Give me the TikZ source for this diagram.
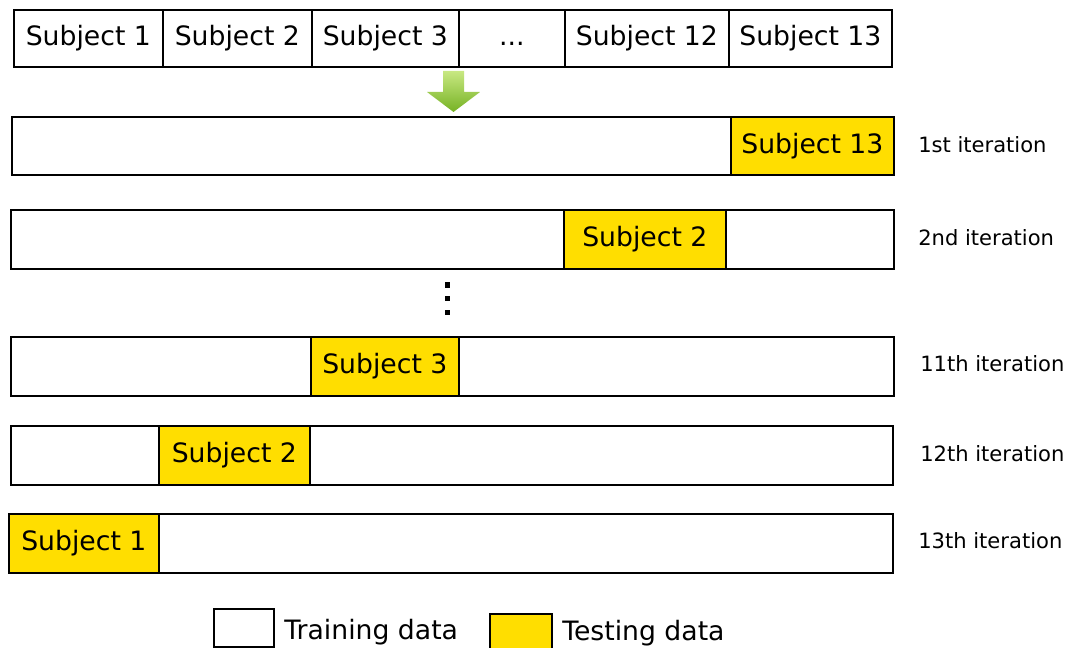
\documentclass[tikz,border=0pt]{standalone}
\usepackage{fontspec}
\setmainfont{DejaVu Sans}
\definecolor{testy}{RGB}{255,222,0}
\definecolor{glight}{RGB}{200,232,130}
\definecolor{gdark}{RGB}{118,178,36}
\begin{document}
\begin{tikzpicture}[x=0.75pt,y=-0.75pt,
  cell/.style={draw=black, line width=1.3pt, fill=white, inner sep=0pt, anchor=north west, font=\fontsize{20}{24}\selectfont},
  test/.style={cell, fill=testy},
  iter/.style={anchor=west, inner sep=0pt, font=\fontsize{15.8}{18}\selectfont},
  legend/.style={anchor=west, inner sep=0pt, font=\fontsize{20}{24}\selectfont},
  bw/.style={minimum width=#1*0.75pt},
  bh/.style={minimum height=#1*0.75pt}]
\clip (0,0) rectangle (1069,648);
\fill[white] (0,0) rectangle (1069,648);
% top row
\node[cell,bw=149,bh=57] (s1) at (13,9) {Subject 1};
\node[cell,bw=149,bh=57] (s2) at (162,9) {Subject 2};
\node[cell,bw=147,bh=57] (s3) at (311,9) {Subject 3};
\node[cell,bw=106,bh=57] (sd) at (458,9) {\vphantom{Sj}.{}.{}.};
\node[cell,bw=164,bh=57] (s12) at (564,9) {Subject 12};
\node[cell,bw=163,bh=57] (s13) at (728,9) {Subject 13};
% arrow
\shade[top color=glight, bottom color=gdark]
  (443,71) -- (464,71) -- (464,92) -- (480,92) -- (453.5,112) -- (427,92) -- (443,92) -- cycle;
% iteration rows
\node[cell,bw=882,bh=58] (r1) at (11,116) {};
\node[test,bw=163,bh=58] (t1) at (730,116) {Subject 13};
\node[iter] (l1) at (918,145) {1st iteration};
\node[cell,bw=883,bh=59] (r2) at (10,209) {};
\node[test,bw=162,bh=59] (t2) at (563,209) {Subject 2};
\node[iter] (l2) at (918,238) {2nd iteration};
% vertical dots
\foreach \yy in {285,298,312}{\fill (445,\yy-2.5) rectangle (450,\yy+2.5);}
\node[cell,bw=883,bh=59] (r11) at (10,336) {};
\node[test,bw=148,bh=59] (t11) at (310,336) {Subject 3};
\node[iter] (l11) at (920,364) {11th iteration};
\node[cell,bw=882,bh=59] (r12) at (10,425) {};
\node[test,bw=151,bh=59] (t12) at (158,425) {Subject 2};
\node[iter] (l12) at (920,454) {12th iteration};
\node[cell,bw=884,bh=59] (r13) at (8,513) {};
\node[test,bw=150,bh=59] (t13) at (8,513) {Subject 1};
\node[iter] (l13) at (918,541) {13th iteration};
% legend
\node[cell,bw=60,bh=38] (lw) at (213,608) {};
\node[legend] (lwt) at (284,632) {Training data};
\node[test,bw=62,bh=37] (ly) at (489,613) {};
\node[legend] (lyt) at (562,633) {Testing data};
\end{tikzpicture}
\end{document}
